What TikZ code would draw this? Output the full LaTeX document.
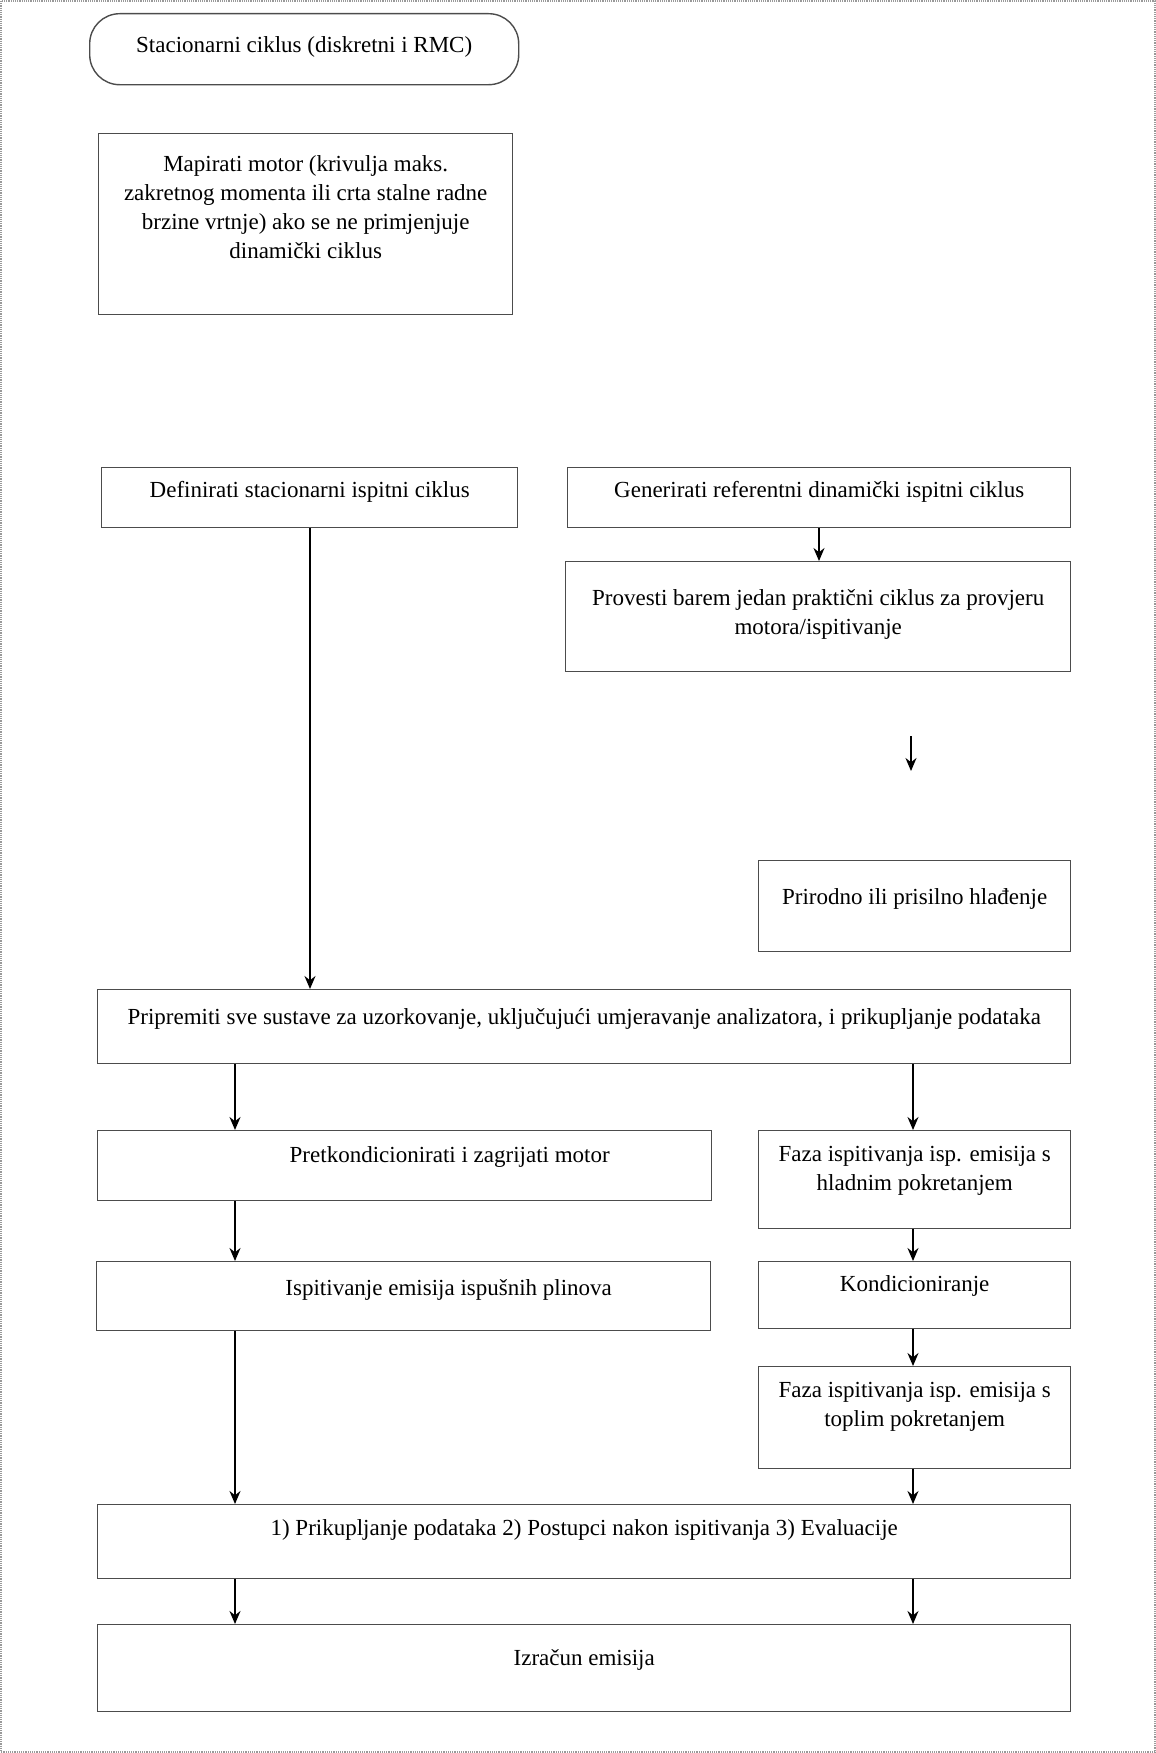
\documentclass[tikz,border=0pt]{standalone}
\usepackage{fontspec}
\setmainfont{Liberation Serif}
\usetikzlibrary{arrows.meta}
\newcommand\bxt[4]{\parbox[c][#2pt][t]{#1pt}{\centering\vspace*{#3pt}#4\par}}
\tikzset{
  flowbox/.style={draw=black!70, line width=1.4pt, rectangle, inner sep=0pt, anchor=north west,
    font=\fontsize{23}{29}\selectfont},
  roundbox/.style={flowbox, rounded corners=30pt},
  arr/.style={draw=black, line width=1.6pt, -{Stealth[length=13pt,width=11pt]}},
  frame/.style={draw=black!40, line width=1.2pt, densely dotted}
}
\begin{document}
\begin{tikzpicture}[x=1pt,y=-1pt]
\useasboundingbox (0,0) rectangle (1156,1753);
\draw[frame] (1,1) rectangle (1155,1752);

\node[roundbox] (R) at (89,13) {\bxt{429}{71}{18}{\strut Stacionarni ciklus (diskretni i RMC)}};
\node[flowbox] (M) at (98,133) {\bxt{414}{181}{17}{\strut Mapirati motor (krivulja maks.\\ zakretnog momenta ili crta stalne radne\\ brzine vrtnje) ako se ne primjenjuje\\ dinamički ciklus}};
\node[flowbox] (D) at (101,467) {\bxt{416}{60}{9}{\strut Definirati stacionarni ispitni ciklus}};
\node[flowbox] (G) at (567,467) {\bxt{503}{60}{9}{\strut Generirati referentni dinamički ispitni ciklus}};
\node[flowbox] (P) at (565,561) {\bxt{505}{110}{23}{\strut Provesti barem jedan praktični ciklus za provjeru\\ motora/ispitivanje}};
\node[flowbox] (H) at (758,860) {\bxt{312}{91}{23}{\strut Prirodno ili prisilno hlađenje}};
\node[flowbox] (U) at (97,989) {\bxt{973}{74}{14}{\strut Pripremiti sve sustave za uzorkovanje, uključujući umjeravanje analizatora, i prikupljanje podataka}};
\node[flowbox] (K1) at (97,1130) {\bxt{614}{70}{11}{\hspace*{90pt}\strut Pretkondicionirati i zagrijati motor}};
\node[flowbox] (F1) at (758,1130) {\bxt{312}{98}{10}{\strut Faza ispitivanja isp. emisija s\\ hladnim pokretanjem}};
\node[flowbox] (I) at (96,1261) {\bxt{614}{69}{13}{\hspace*{90pt}\strut Ispitivanje emisija ispušnih plinova}};
\node[flowbox] (K2) at (758,1261) {\bxt{312}{67}{9}{\strut Kondicioniranje}};
\node[flowbox] (F2) at (758,1366) {\bxt{312}{102}{10}{\strut Faza ispitivanja isp. emisija s\\ toplim pokretanjem}};
\node[flowbox] (E) at (97,1504) {\bxt{973}{74}{10}{\strut 1) Prikupljanje podataka 2) Postupci nakon ispitivanja 3) Evaluacije}};
\node[flowbox] (Z) at (97,1624) {\bxt{973}{87}{20}{\strut Izračun emisija}};

\coordinate (xG) at (819,0);
\coordinate (xD) at (310,0);
\coordinate (xL) at (235,0);
\coordinate (xR) at (913,0);
\coordinate (s1) at (911,736);
\coordinate (s2) at (911,771);

\draw[arr] (G.south -| xG) -- (P.north -| xG);
\draw[arr] (s1) -- (s2);
\draw[arr] (D.south -| xD) -- (U.north -| xD);
\draw[arr] (U.south -| xL) -- (K1.north -| xL);
\draw[arr] (U.south -| xR) -- (F1.north -| xR);
\draw[arr] (K1.south -| xL) -- (I.north -| xL);
\draw[arr] (F1.south -| xR) -- (K2.north -| xR);
\draw[arr] (K2.south -| xR) -- (F2.north -| xR);
\draw[arr] (I.south -| xL) -- (E.north -| xL);
\draw[arr] (F2.south -| xR) -- (E.north -| xR);
\draw[arr] (E.south -| xL) -- (Z.north -| xL);
\draw[arr] (E.south -| xR) -- (Z.north -| xR);
\end{tikzpicture}
\end{document}
